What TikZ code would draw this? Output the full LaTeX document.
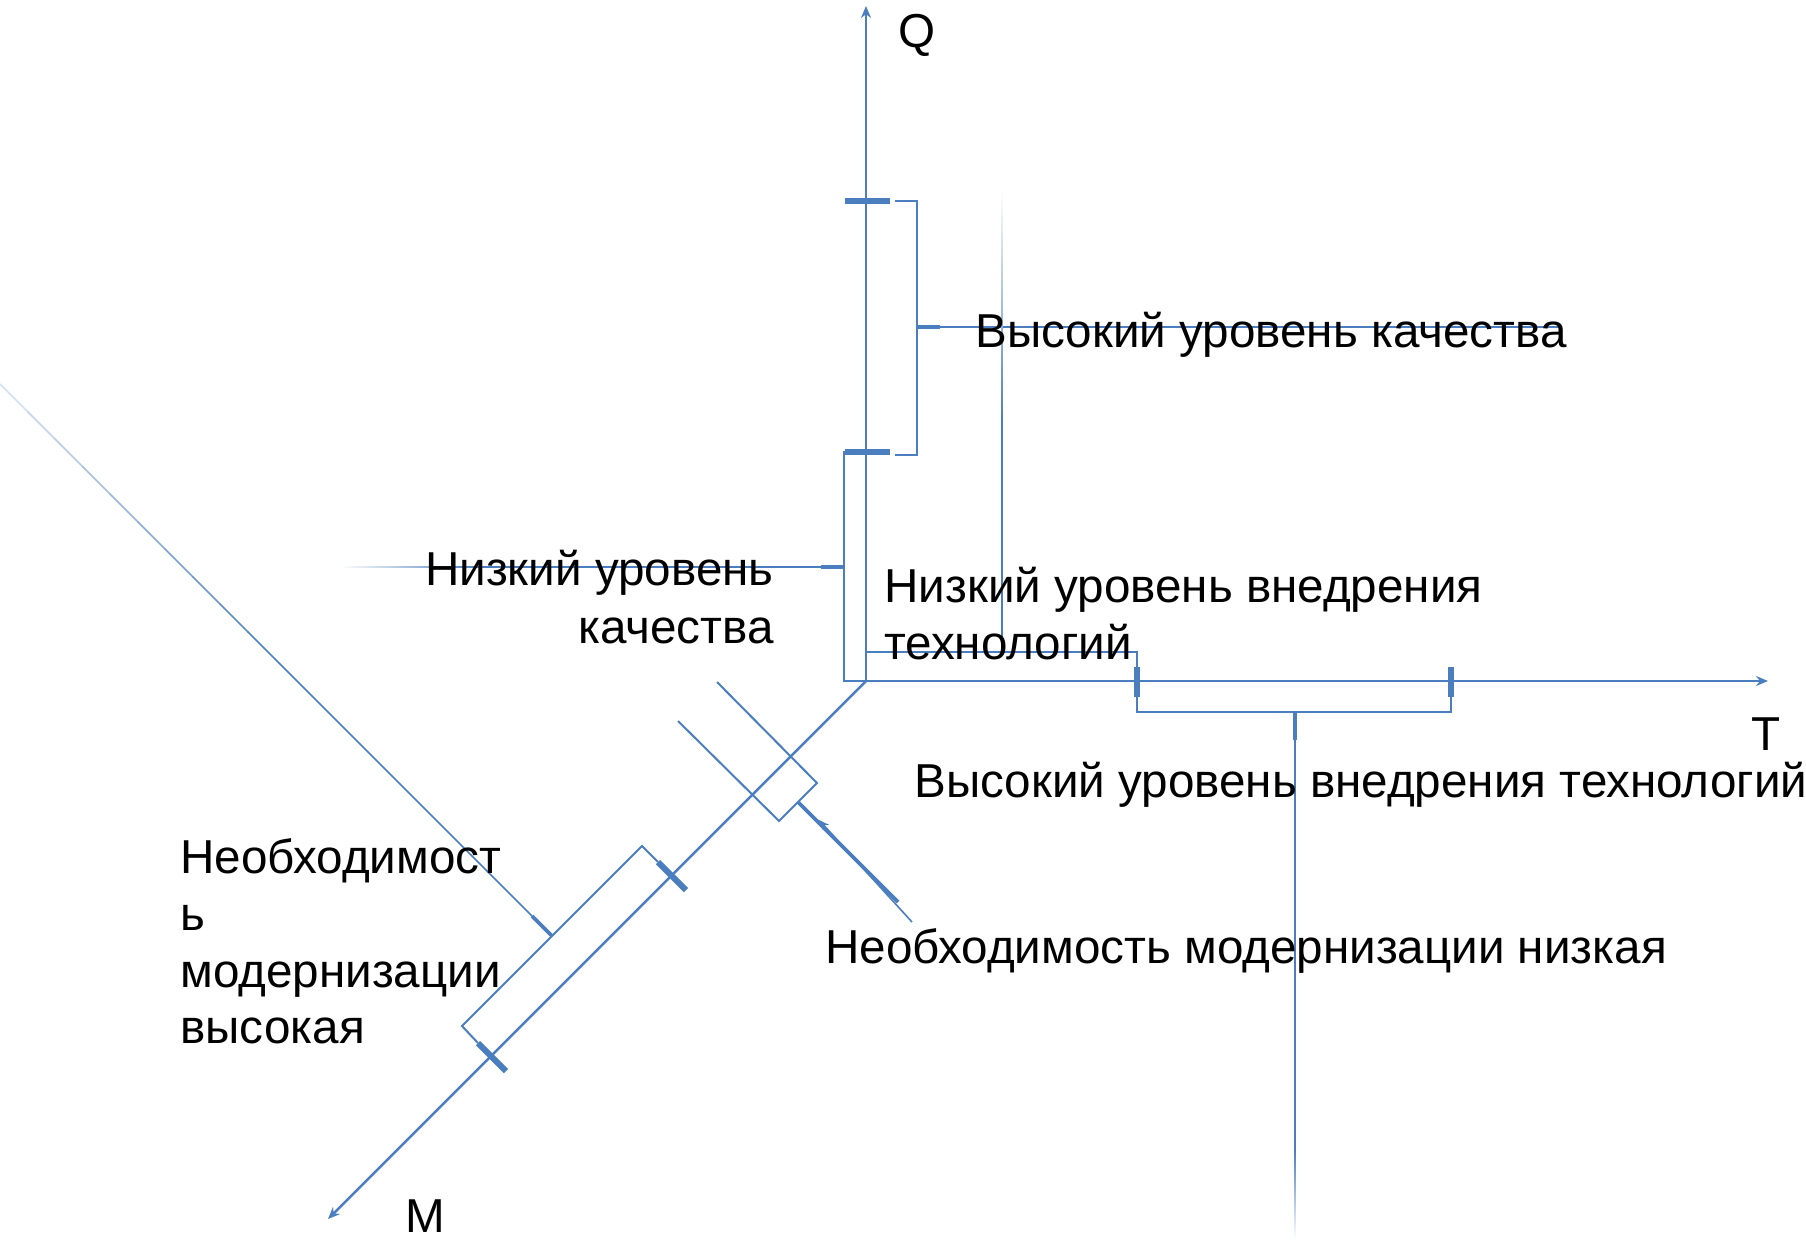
\documentclass[tikz,border=0pt]{standalone}
\usepackage{fontspec}
\setmainfont{Liberation Sans}
\usetikzlibrary{arrows.meta}
\definecolor{lc}{RGB}{74,126,190}
\begin{document}
\begin{tikzpicture}[x=0.5pt,y=-0.5pt,
  ln/.style={draw=lc, line width=1pt},
  thinln/.style={draw=lc, line width=0.8pt},
  axisln/.style={draw=lc, line width=1.25pt, -{Stealth[length=6pt,width=5pt]}},
  tickmark/.style={draw=lc, line width=3pt},
  stub/.style={draw=lc, line width=1.8pt},
  lbl/.style={inner sep=0pt, font=\fontsize{23.8}{28}\selectfont, text=black}]
\useasboundingbox (0,0) rectangle (1806,1239);
% key points
\coordinate (O) at (866,681);
\coordinate (Qend) at (866,6);
\coordinate (Tend) at (1768,681);
\coordinate (Mend) at (328,1219);
% axes
\draw[axisln] (O) -- (Qend);
\draw[axisln] (O) -- (Tend);
\draw[axisln] (O) -- (Mend);
% Q ticks and brackets
\coordinate (q1a) at (845,201); \coordinate (q1b) at (890,201);
\coordinate (q2a) at (845,452); \coordinate (q2b) at (890,452);
\draw[tickmark] (q1a) -- (q1b);
\draw[tickmark] (q2a) -- (q2b);
\coordinate (hqb1) at (895,201); \coordinate (hqb2) at (917,201);
\coordinate (hqb3) at (917,455); \coordinate (hqb4) at (895,455);
\draw[ln] (hqb1) -- (hqb2) -- (hqb3) -- (hqb4);
\coordinate (hqs1) at (917,327); \coordinate (hqs2) at (940,327); \coordinate (hqs3) at (1562,327);
\draw[stub] (hqs1) -- (hqs2);
\draw[thinln] (hqs2) -- (hqs3);
% low quality bracket
\coordinate (lqb1) at (866,452); \coordinate (lqb2) at (844,452);
\coordinate (lqb3) at (844,681);
\draw[ln] (lqb1) -- (lqb2) -- (lqb3) -- (O);
\coordinate (lqs1) at (844,567); \coordinate (lqs2) at (821,567); \coordinate (lqs3) at (480,567);
\draw[stub] (lqs1) -- (lqs2);
\draw[thinln] (lqs2) -- (lqs3);
\shade[left color=white, right color=lc] (340,566.2) rectangle (480,567.8);
% low tech bracket
\coordinate (ltb1) at (866,652); \coordinate (ltb2) at (1137,652); \coordinate (ltb3) at (1137,667);
\draw[ln] (ltb1) -- (ltb2) -- (ltb3);
\coordinate (lts1) at (1002,652); \coordinate (lts2) at (1002,420);
\draw[thinln] (lts1) -- (lts2);
\shade[top color=white, bottom color=lc] (1001.2,190) rectangle (1002.8,420);
% T ticks and high tech bracket
\coordinate (t1a) at (1137,667); \coordinate (t1b) at (1137,697);
\coordinate (t2a) at (1451,667); \coordinate (t2b) at (1451,697);
\draw[tickmark] (t1a) -- (t1b);
\draw[tickmark] (t2a) -- (t2b);
\coordinate (htb2) at (1137,712); \coordinate (htb3) at (1451,712);
\draw[ln] (t1b) -- (htb2) -- (htb3) -- (t2b);
\coordinate (hts1) at (1295,712); \coordinate (hts2) at (1295,740); \coordinate (hts3) at (1295,1150);
\draw[stub] (hts1) -- (hts2);
\draw[thinln] (hts2) -- (hts3);
\shade[top color=lc, bottom color=white] (1294.2,1150) rectangle (1295.8,1239);
% M ticks and high modernization bracket
\coordinate (m1a) at (658,862); \coordinate (m1b) at (686,890);
\coordinate (m2a) at (478,1043); \coordinate (m2b) at (506,1071);
\draw[tickmark] (m1a) -- (m1b);
\draw[tickmark] (m2a) -- (m2b);
\coordinate (hmb1) at (642,846); \coordinate (hmb2) at (462,1026);
\draw[ln] (m1a) -- (hmb1) -- (hmb2) -- (m2a);
\coordinate (hms1) at (552,936); \coordinate (hms2) at (532,916); \coordinate (hms3) at (275,659);
\draw[stub] (hms1) -- (hms2);
\draw[thinln] (hms2) -- (hms3);
\foreach \i in {0,...,9} {
  \pgfmathsetmacro\ca{27.5*\i}
  \pgfmathsetmacro\cb{27.5*(\i+1)+0.6}
  \pgfmathtruncatemacro\pc{8*\i+25}
  \draw[draw=lc!\pc!white, line width=0.8pt] (\ca,384+\ca) -- (\cb,384+\cb);
}
% low modernization bracket
\coordinate (lmb1) at (717,682); \coordinate (lmb2) at (817,783);
\coordinate (lmb3) at (779,821); \coordinate (lmb4) at (678,721);
\draw[ln] (lmb1) -- (lmb2) -- (lmb3) -- (lmb4);
\coordinate (lms1) at (798,802); \coordinate (lms2) at (898,902);
\draw[stub] (lms1) -- (lms2);
\coordinate (lma1) at (912,922); \coordinate (lma2) at (819,820);
\draw[thinln, -{Stealth[length=5pt,width=4pt]}] (lma1) -- (lma2);
% labels
\node[lbl, anchor=base] (Ql) at (917,47) {Q};
\node[lbl, anchor=base] (Tl) at (1766,750) {T};
\node[lbl, anchor=base] (Ml) at (425,1232) {M};
\node[lbl, anchor=base west] (hq) at (975,347) {Высокий уровень качества};
\node[lbl, anchor=base east] (lq1) at (774,585) {Низкий уровень};
\node[lbl, anchor=base east] (lq2) at (774,643) {качества};
\node[lbl, anchor=base west] (lt1) at (884,602) {Низкий уровень внедрения};
\node[lbl, anchor=base west] (lt2) at (884,659) {технологий};
\node[lbl, anchor=base west] (ht) at (914,797) {Высокий уровень внедрения технологий};
\node[lbl, anchor=base west] (lm) at (825,963) {Необходимость модернизации низкая};
\node[lbl, anchor=base west] (hm1) at (180,873) {Необходимост};
\node[lbl, anchor=base west] (hm2) at (180,930) {ь};
\node[lbl, anchor=base west] (hm3) at (180,987) {модернизации};
\node[lbl, anchor=base west] (hm4) at (180,1043) {высокая};
\end{tikzpicture}
\end{document}
